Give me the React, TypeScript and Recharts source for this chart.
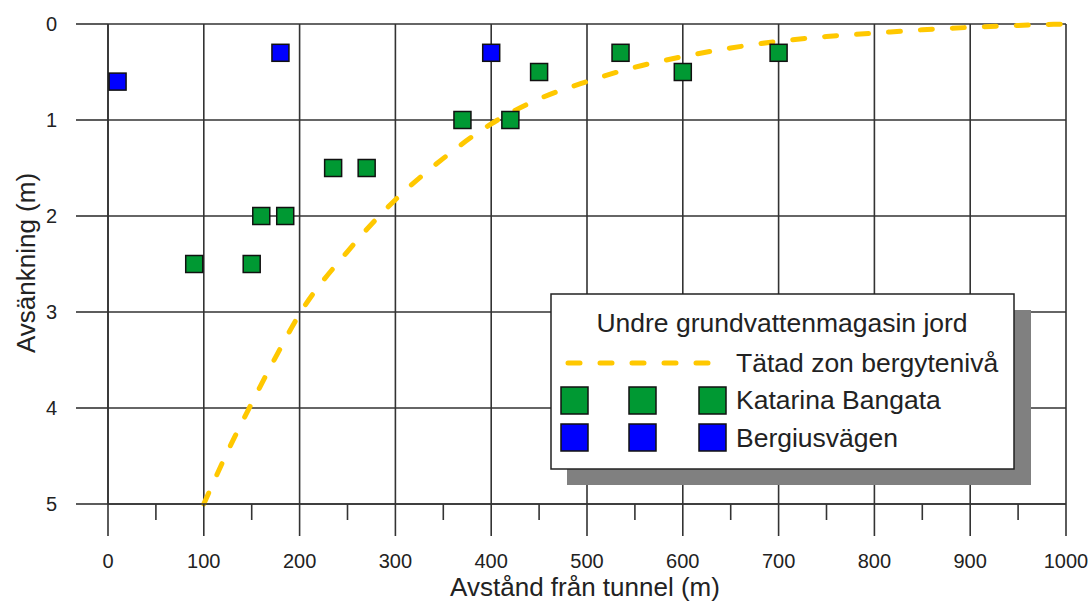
import {
  ComposedChart,
  Scatter,
  Line,
  XAxis,
  YAxis,
  CartesianGrid,
  Customized,
} from "recharts";

// Katarina Bangata (green squares)
const katarinaX = [90, 150, 160, 185, 235, 270, 370, 420, 450, 535, 600, 700];
const katarinaY = [2.5, 2.5, 2, 2, 1.5, 1.5, 1, 1, 0.5, 0.3, 0.5, 0.3];

// Bergiusvägen (blue squares)
const bergiusX = [10, 180, 400];
const bergiusY = [0.6, 0.3, 0.3];

// Tätad zon bergytenivå (dashed curve)
const curveX = [100, 125, 150, 175, 200, 250, 300, 350, 400, 450, 500, 550, 600, 650, 700, 750, 800, 850, 900, 950, 1000];
const curveY = [5, 4.45, 3.95, 3.47, 3.02, 2.37, 1.83, 1.4, 1.04, 0.78, 0.6, 0.45, 0.34, 0.25, 0.18, 0.13, 0.095, 0.06, 0.035, 0.015, 0];

const xMajorTicks = [0, 100, 200, 300, 400, 500, 600, 700, 800, 900, 1000];
const xAllTicks = [0, 50, 100, 150, 200, 250, 300, 350, 400, 450, 500, 550, 600, 650, 700, 750, 800, 850, 900, 950, 1000];
const yTicks = [0, 1, 2, 3, 4, 5];

const xTitle = "Avstånd från tunnel (m)";
const yTitle = "Avsänkning (m)";
const legendTitle = "Undre grundvattenmagasin jord";
const curveName = "Tätad zon bergytenivå";
const katarinaName = "Katarina Bangata";
const bergiusName = "Bergiusvägen";

const GREEN = "#009933";
const BLUE = "#0000ff";
const YELLOW = "#ffc800";
const GRID = "#333";
const FONT = "'Liberation Sans', Arial, sans-serif";

const TICK_SIZE = 32;
const TICK_MARGIN = 18;

// chart fills the whole window
if (typeof document !== "undefined") {
  document.body.style.margin = "0";
}

const katarina = katarinaX.map((x, i) => ({ x, y: katarinaY[i] }));
const bergius = bergiusX.map((x, i) => ({ x, y: bergiusY[i] }));
const curve = curveX.map((x, i) => ({ x, y: curveY[i] }));

const square = (fill: string) => (props: any) => (
  <rect
    x={props.cx - 8.5}
    y={props.cy - 8.5}
    width={17}
    height={17}
    fill={fill}
    stroke="#111"
    strokeWidth={1.5}
  />
);

// x tick: long line + label at hundreds, short line at fifties
function XTick(props: any) {
  const { x, y, payload } = props;
  const major = xMajorTicks.includes(payload.value);
  const axisY = y - TICK_SIZE - TICK_MARGIN;
  return (
    <g>
      <line
        x1={x}
        x2={x}
        y1={axisY}
        y2={axisY + (major ? TICK_SIZE : TICK_SIZE / 2)}
        stroke={GRID}
        strokeWidth={1.6}
      />
      {major && (
        <text x={x} y={y} dy="0.71em" textAnchor="middle" fontSize={20} fill="#222" fontFamily={FONT}>
          {payload.value}
        </text>
      )}
    </g>
  );
}

function Decor() {
  return (
    <g fontFamily={FONT} fill="#222">
      <text x={585} y={596} fontSize={26} textAnchor="middle">
        {xTitle}
      </text>
      <text x={35} y={263} fontSize={26} textAnchor="middle" transform="rotate(-90 35 263)">
        {yTitle}
      </text>

      {/* legend with drop shadow */}
      <rect x={567} y={310} width={464} height={175} fill="#808080" />
      <rect x={551} y={294} width={463} height={175} fill="#fff" stroke="#222" strokeWidth={1.5} />
      <text x={782} y={323} fontSize={26.5} textAnchor="middle" dominantBaseline="central">
        {legendTitle}
      </text>
      <line
        x1={568}
        y1={363}
        x2={708}
        y2={363}
        stroke={YELLOW}
        strokeWidth={5}
        strokeDasharray="12 20"
        strokeLinecap="round"
      />
      <text x={736} y={363} fontSize={26.5} dominantBaseline="central">
        {curveName}
      </text>
      {[561, 629, 699].map((lx) => (
        <rect key={"g" + lx} x={lx} y={387} width={27} height={27} fill={GREEN} stroke="#111" strokeWidth={1.5} />
      ))}
      <text x={736} y={400} fontSize={26.5} dominantBaseline="central">
        {katarinaName}
      </text>
      {[561, 629, 699].map((lx) => (
        <rect key={"b" + lx} x={lx} y={424} width={27} height={27} fill={BLUE} stroke="#111" strokeWidth={1.5} />
      ))}
      <text x={736} y={438} fontSize={26.5} dominantBaseline="central">
        {bergiusName}
      </text>
    </g>
  );
}

export default function App() {
  const tickStyle = { fontSize: 20, fill: "#222", fontFamily: FONT };
  return (
    <div style={{ width: 1090, height: 603 }}>
      <ComposedChart
        width={1090}
        height={603}
        margin={{ top: 24, right: 24, bottom: 0, left: 0 }}
      >
        <CartesianGrid stroke={GRID} strokeWidth={1.6} verticalValues={xMajorTicks} />
        <XAxis
          type="number"
          dataKey="x"
          domain={[0, 1000]}
          ticks={xAllTicks}
          height={99}
          tickSize={TICK_SIZE}
          tickMargin={TICK_MARGIN}
          tick={<XTick />}
          axisLine={{ stroke: GRID, strokeWidth: 1.6 }}
          tickLine={false}
          interval={0}
        />
        <YAxis
          type="number"
          dataKey="y"
          reversed
          domain={[0, 5]}
          ticks={yTicks}
          width={108}
          tickSize={TICK_SIZE}
          tickMargin={19}
          tick={tickStyle}
          axisLine={{ stroke: GRID, strokeWidth: 1.6 }}
          tickLine={{ stroke: GRID, strokeWidth: 1.6 }}
          interval={0}
        />
        <Line
          data={curve}
          dataKey="y"
          type="monotone"
          stroke={YELLOW}
          strokeWidth={5}
          strokeDasharray="12 20"
          strokeLinecap="round"
          dot={false}
          activeDot={false}
          isAnimationActive={false}
        />
        <Scatter data={katarina} dataKey="y" shape={square(GREEN)} isAnimationActive={false} />
        <Scatter data={bergius} dataKey="y" shape={square(BLUE)} isAnimationActive={false} />
        <Customized component={Decor} />
      </ComposedChart>
    </div>
  );
}
